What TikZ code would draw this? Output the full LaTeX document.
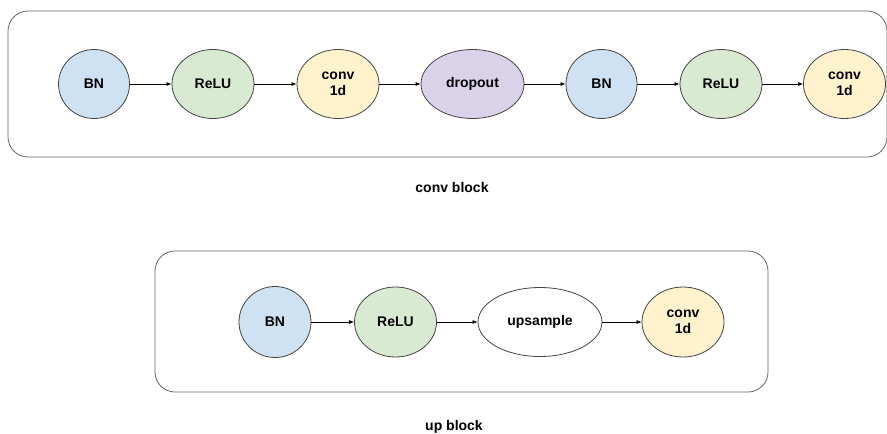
\documentclass[tikz,border=0pt]{standalone}
\usepackage{fontspec}
\setmainfont{Liberation Sans}
\usetikzlibrary{arrows.meta,shapes.geometric}

\definecolor{bnfill}{HTML}{CFE2F3}
\definecolor{relufill}{HTML}{D9EAD3}
\definecolor{convfill}{HTML}{FFF2CC}
\definecolor{dropfill}{HTML}{D9D2E9}
\definecolor{edgegray}{HTML}{444444}
\definecolor{boxgray}{HTML}{666666}

\begin{document}
\begin{tikzpicture}[x=1pt,y=-1pt,
  stage/.style={ellipse, draw=edgegray, line width=0.8pt, inner sep=0pt,
    align=center, font=\bfseries\fontsize{14}{16}\selectfont,
    minimum height=69pt},
  bnnode/.style={stage, fill=bnfill, minimum width=71pt},
  relunode/.style={stage, fill=relufill, minimum width=82pt},
  convnode/.style={stage, fill=convfill, minimum width=82pt},
  dropnode/.style={stage, fill=dropfill, minimum width=103pt},
  upnode/.style={stage, fill=white, minimum width=124pt},
  container/.style={draw=boxgray, line width=0.8pt, rounded corners=20pt,
    inner sep=0pt},
  caption/.style={font=\bfseries\fontsize{14}{16}\selectfont},
  flow/.style={draw=black, line width=0.7pt,
    -{Latex[length=5pt,width=4pt]}}]

\useasboundingbox (0,0) rectangle (887,434);

% conv block
\node[container, minimum width=879pt, minimum height=146pt] (convbox) at (447.5,84) {};
\node[bnnode]   (bn1)   at (94,84)  {BN};
\node[relunode] (relu1) at (213,84) {ReLU};
\node[convnode] (conv1) at (338,84) {conv\\1d};
\node[dropnode] (drop)  at (472.5,84) {dropout};
\node[bnnode]   (bn2)   at (601.5,84) {BN};
\node[relunode] (relu2) at (721,84) {ReLU};
\node[convnode] (conv2) at (844.5,84) {conv\\1d};
\draw[flow] (bn1) -- (relu1);
\draw[flow] (relu1) -- (conv1);
\draw[flow] (conv1) -- (drop);
\draw[flow] (drop) -- (bn2);
\draw[flow] (bn2) -- (relu2);
\draw[flow] (relu2) -- (conv2);
\node[caption] (convlabel) at (452,187) {conv block};

% up block
\node[container, minimum width=613pt, minimum height=141pt] (upbox) at (461.5,321.5) {};
\node[bnnode, minimum width=72pt, minimum height=71pt] (bn3) at (275,322) {BN};
\node[relunode, minimum height=70pt] (relu3) at (395.5,322) {ReLU};
\node[upnode] (ups) at (540,322) {upsample};
\node[convnode, minimum height=70pt] (conv3) at (683,322) {conv\\1d};
\draw[flow] (bn3) -- (relu3);
\draw[flow] (relu3) -- (ups);
\draw[flow] (ups) -- (conv3);
\node[caption] (uplabel) at (454,427) {up block};

\end{tikzpicture}
\end{document}
